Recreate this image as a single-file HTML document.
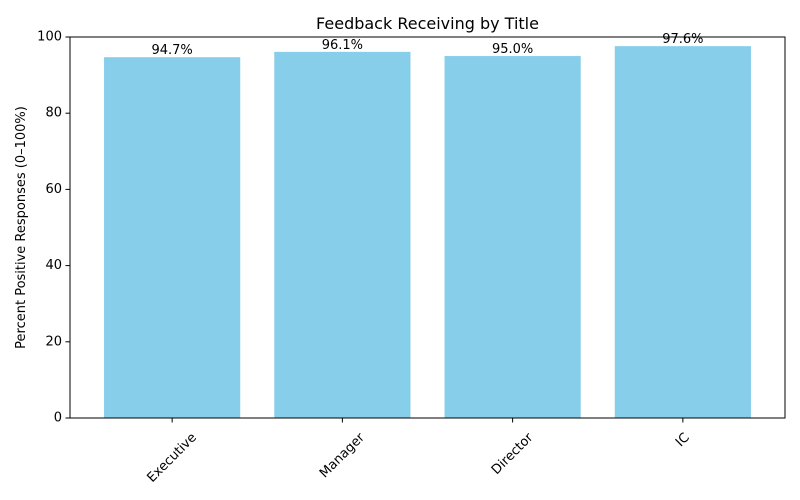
<!DOCTYPE html>
<html><head><meta charset="utf-8"><style>
body{margin:0;background:#fff;}
svg{display:block;font-family:"DejaVu Sans","Liberation Sans",sans-serif;}
</style></head><body>
<svg id="chart" width="800" height="500" viewBox="0 0 800 500">
<rect width="800" height="500" fill="#fff"/>
<text x="427.5" y="29" font-size="16" text-anchor="middle">Feedback Receiving by Title</text>
<text transform="translate(25,227.5) rotate(-90)" font-size="13" text-anchor="middle">Percent Positive Responses (0–100%)</text>
<g id="plot"></g>
</svg>
<script>
const categories = ["Executive","Manager","Director","IC"];
const values = [94.7, 96.1, 95.0, 97.6];
const valueLabels = ["94.7%","96.1%","95.0%","97.6%"];
const yTicks = [0,20,40,60,80,100];

const L=70,R=785,T=37,B=418;
const ns="http://www.w3.org/2000/svg";
const g=document.getElementById('plot');
const x=i=>L+(i+0.6)/4.2*(R-L);
const bw=0.8/4.2*(R-L);
const y=v=>B-(v/100)*(B-T);
function mk(t,a,p){const e=document.createElementNS(ns,t);for(const k in a)e.setAttribute(k,a[k]);(p||g).appendChild(e);return e;}

categories.forEach((c,i)=>{
  const b=mk('rect',{x:x(i)-bw/2,y:y(values[i]),width:bw,height:B-y(values[i]),fill:'#87ceeb'});
  
  
  const vl=mk('text',{x:x(i),y:y(values[i])-3,'font-size':13,'text-anchor':'middle'});
  vl.textContent=valueLabels[i];
  
  
  const tk=mk('line',{x1:x(i),x2:x(i),y1:B,y2:B+4.5,stroke:'#000','stroke-width':1});
  
  
  const tl=mk('text',{x:0,y:0,'font-size':13,'text-anchor':'middle','dominant-baseline':'central'});
  tl.textContent=c;
  
  
  const w=tl.getComputedTextLength();
  const h=(w+13)*0.7071;
  tl.setAttribute('transform',`translate(${x(i)},${B+13+h/2}) rotate(-45)`);
});
yTicks.forEach(v=>{
  const tk=mk('line',{x1:L-4.5,x2:L,y1:y(v),y2:y(v),stroke:'#000','stroke-width':1});
  
  
  const tl=mk('text',{x:L-8,y:y(v),'font-size':13,'text-anchor':'end','dominant-baseline':'central'});
  tl.textContent=v;
  
  
});
const fr=mk('rect',{x:L,y:T,width:R-L,height:B-T,fill:'none',stroke:'#000','stroke-width':1});


</script>
</body></html>
